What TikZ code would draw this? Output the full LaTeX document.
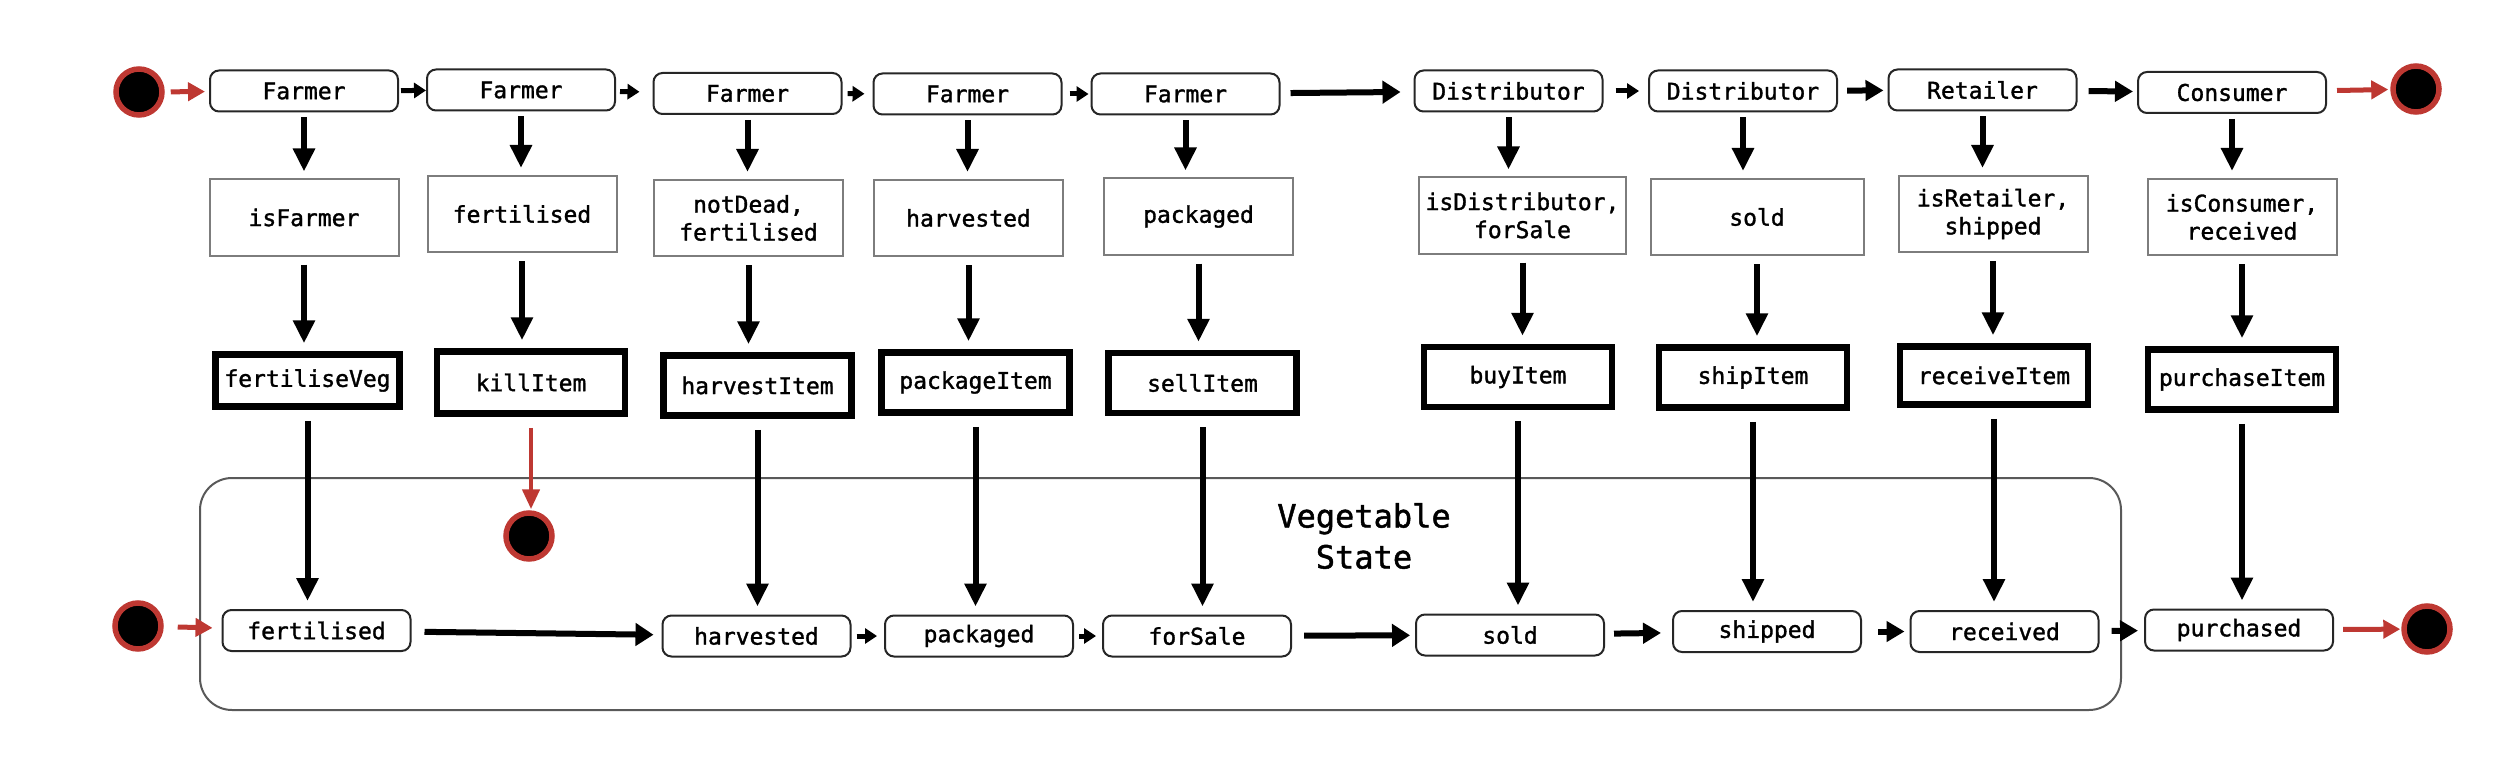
\documentclass[tikz,border=0pt]{standalone}
\usepackage{fontspec}
\newfontfamily\dmono[FakeBold=1.4]{DejaVu Sans Mono}
\usetikzlibrary{arrows.meta}
\definecolor{ringred}{RGB}{190,56,50}
\definecolor{condgray}{RGB}{125,125,125}
\begin{document}
\begin{tikzpicture}[x=1pt,y=-1pt,
  every node/.style={font=\dmono\fontsize{23}{28}\selectfont, inner sep=0pt},
  actor/.style={draw=black!85, line width=2pt, rounded corners=9pt, minimum width=188pt, minimum height=41pt, fill=white},
  cond/.style={draw=condgray, line width=2pt, minimum width=189pt, minimum height=76pt, align=center, fill=white},
  func/.style={draw=black, line width=6.5pt, minimum width=188pt, minimum height=60pt, fill=white},
  dot/.style={circle, fill=black, draw=ringred, line width=5.5pt, minimum size=46pt},
  container/.style={draw=black!65, line width=2pt, rounded corners=32pt},
  varr/.style={draw=black, line width=6pt, -{Triangle[length=23pt,width=21pt]}},
  harr/.style={draw=black, line width=5pt, -{Triangle[length=12pt,width=15pt]}},
  marr/.style={draw=black, line width=6pt, -{Triangle[length=18pt,width=20pt]}},
  larr/.style={draw=black, line width=6pt, -{Triangle[length=18pt,width=22pt]}},
  rarr/.style={draw=ringred, line width=5pt, -{Triangle[length=17pt,width=18pt]}},
  rvarr/.style={draw=ringred, line width=4.5pt, -{Triangle[length=20pt,width=17pt]}},
]
\useasboundingbox (0,0) rectangle (2496,770);

% container
\node[container, minimum width=1921pt, minimum height=232pt] (veg) at (1160.5,594) {};
\node[font=\dmono\fontsize{32}{41}\selectfont, align=center] (vlabel) at (1364,536) {Vegetable\\State};

% top row
\node[dot] (s0) at (139,92) {};
\node[actor] (f1) at (304,91) {Farmer};
\node[actor] (f2) at (521,90) {Farmer};
\node[actor] (f3) at (747.5,93.5) {Farmer};
\node[actor] (f4) at (967.5,94) {Farmer};
\node[actor] (f5) at (1185.5,94) {Farmer};
\node[actor] (d1) at (1508.5,91) {Distributor};
\node[actor] (d2) at (1743,91) {Distributor};
\node[actor] (rt) at (1982.5,90) {Retailer};
\node[actor] (cs) at (2232,92.5) {Consumer};
\node[dot] (e0) at (2416,89) {};

% conditions
\node[cond] (c1) at (304,217.5) {isFarmer};
\node[cond] (c2) at (522,214) {fertilised};
\node[cond] (c3) at (748.5,218) {notDead,\\fertilised};
\node[cond] (c4) at (968.5,218) {harvested};
\node[cond] (c5) at (1198.5,216.5) {packaged};
\node[cond, minimum width=207pt] (c6) at (1522.5,215.5) {isDistributor,\\forSale};
\node[cond, minimum width=213pt] (c7) at (1757,217) {sold};
\node[cond] (c8) at (1993,214) {isRetailer,\\shipped};
\node[cond] (c9) at (2242,217) {isConsumer,\\received};

% functions
\node[func, minimum width=184pt, minimum height=52pt] (g1) at (307.5,380.5) {fertiliseVeg};
\node[func, minimum height=62pt] (g2) at (531,382.5) {killItem};
\node[func] (g3) at (757.5,385.5) {harvestItem};
\node[func] (g4) at (975.5,382.5) {packageItem};
\node[func] (g5) at (1202.5,383) {sellItem};
\node[func] (g6) at (1518,377) {buyItem};
\node[func] (g7) at (1753,377.5) {shipItem};
\node[func, minimum height=58pt] (g8) at (1994,375.5) {receiveItem};
\node[func] (g9) at (2242,379.5) {purchaseItem};

% bottom row
\node[dot] (s1) at (138,626) {};
\node[actor] (b1) at (316.5,630.5) {fertilised};
\node[actor] (b2) at (756.5,636) {harvested};
\node[actor] (b3) at (979,636) {packaged};
\node[actor] (b4) at (1197,636) {forSale};
\node[actor] (b5) at (1510,635) {sold};
\node[actor] (b6) at (1767,631.5) {shipped};
\node[actor] (b7) at (2004.5,631.5) {received};
\node[actor] (b8) at (2239,630) {purchased};
\node[dot] (e1) at (2427,629) {};
\node[dot] (kx) at (529,536) {};

% top horizontal arrows
\draw[rarr, shorten <=6pt, shorten >=4pt] (s0) -- (f1);
\draw[harr, shorten <=2pt] (f1) -- (f2);
\draw[harr, shorten <=4pt, shorten >=13pt] (f2) -- (f3);
\draw[harr, shorten <=5pt, shorten >=8pt] (f3) -- (f4);
\draw[harr, shorten <=7pt, shorten >=2pt] (f4) -- (f5);
\draw[larr, shorten <=10pt, shorten >=13pt] (f5) -- (d1);
\draw[harr, shorten <=12pt, shorten >=9pt] (d1) -- (d2);
\draw[marr, shorten <=9pt, shorten >=4pt] (d2) -- (rt);
\draw[marr, shorten <=11pt, shorten >=4pt] (rt) -- (cs);
\draw[rarr, shorten <=10pt, shorten >=2pt] (cs) -- (e0);

% top to conditions
\foreach \a/\b in {f1/c1,f2/c2,f3/c3,f4/c4,f5/c5,d1/c6,d2/c7,rt/c8,cs/c9}
  \draw[varr, shorten <=5pt, shorten >=7pt] (\a.south) -- (\a.south |- \b.north);

% conditions to functions
\foreach \a/\b in {c1/g1,c2/g2,c3/g3,c4/g4,c5/g5,c6/g6,c7/g7,c8/g8,c9/g9}
  \draw[varr, shorten <=8pt, shorten >=8pt] (\a.south) -- (\a.south |- \b.north);

% functions to vegetable states
\foreach \a/\b in {g1/b1,g3/b2,g4/b3,g5/b4,g6/b5,g7/b6,g8/b7,g9/b8}
  \draw[varr, shorten <=11pt, shorten >=8pt] (\a.south) -- (\a.south |- \b.north);
\draw[rvarr, shorten <=11pt, shorten >=1pt] (g2.south) -- (g2.south |- kx.north);

% bottom horizontal arrows
\draw[rarr, shorten <=14pt, shorten >=9pt] (s1) -- (b1);
\draw[larr, shorten <=13pt, shorten >=8pt] (b1) -- (b2);
\draw[harr, shorten <=5pt, shorten >=7pt] (b2) -- (b3);
\draw[harr, shorten <=5pt, shorten >=6pt] (b3) -- (b4);
\draw[larr, shorten <=12pt, shorten >=5pt] (b4) -- (b5);
\draw[marr, shorten <=9pt, shorten >=11pt] (b5) -- (b6);
\draw[marr, shorten <=16pt, shorten >=5pt] (b6) -- (b7);
\draw[marr, shorten <=12pt, shorten >=6pt] (b7) -- (b8);
\draw[rarr, shorten <=9pt, shorten >=1pt] (b8) -- (e1);
\end{tikzpicture}
\end{document}
